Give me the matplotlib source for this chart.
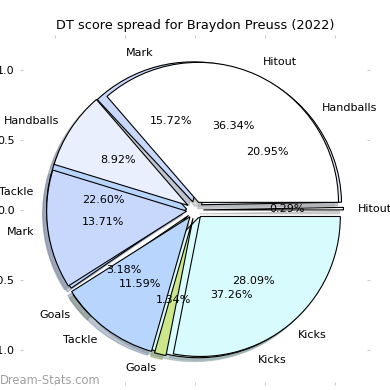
import matplotlib
matplotlib.use("Agg")
import matplotlib.pyplot as plt

labels = ['Hitout', 'Handballs', 'Mark', 'Tackle', 'Goals', 'Kicks']
# two sets of shares drawn on top of each other
share_a = [36.34, 8.92, 13.71, 11.59, 1.34, 28.09]
share_b = [0.29, 20.95, 15.72, 22.60, 3.18, 37.26]
colors = ['#ffffff', '#e9effd', '#c8d8fc', '#b8d5fe', '#cce68a', '#d8fcfe']

fig = plt.figure(figsize=(3.9, 3.9), dpi=100)
ax = fig.add_axes([20 / 390, 5 / 390, 350 / 390, 350 / 390])

explode = [0.06] * 6
wp = {'edgecolor': 'k', 'linewidth': 0.8}
shadow = {'ox': -0.02, 'oy': -0.02, 'shade': 0.35}

ax.pie(share_b, labels=labels, colors=colors, explode=explode, autopct='%1.2f%%',
       shadow=shadow, startangle=0, wedgeprops=wp, textprops={'fontsize': 8}, frame=True)
ax.pie(share_a, labels=labels, colors=colors, explode=explode, autopct='%1.2f%%',
       shadow=shadow, startangle=0, wedgeprops=wp, textprops={'fontsize': 8}, frame=True)

ax.set_xlim(-1.25, 1.25)
ax.set_ylim(-1.25, 1.25)
ax.set_aspect('equal')
ax.set_frame_on(False)
ticks = [-1.0, -0.5, 0.0, 0.5, 1.0]
ax.set_xticks(ticks)
ax.set_yticks(ticks)
ax.tick_params(top=True, right=True, direction='in', color='#cccccc',
               labelsize=8, length=2.5, pad=4)
ax.set_title('DT score spread for Braydon Preuss (2022)', fontsize=9.3, pad=4)

fig.text(0.0, 0.015, 'Dream-Stats.com', fontsize=8.3, color='#a0a0a0')

fig.savefig('out.png')
